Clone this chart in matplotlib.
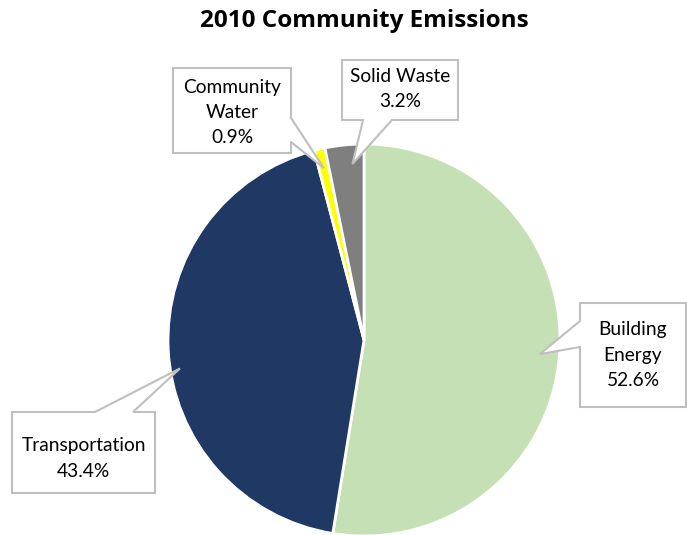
import matplotlib.pyplot as plt
from matplotlib.patches import Polygon
import numpy as np

title = '2010 Community Emissions'
categories = ['Building\nEnergy', 'Transportation', 'Community\nWater', 'Solid Waste']
shares = [52.6, 43.4, 0.9, 3.2]
colors = ['#C5E0B4', '#203864', '#FFFF00', '#7F7F7F']

plt.rcParams['font.family'] = ['Lato', 'DejaVu Sans']

W, H = 687, 535
fig = plt.figure(figsize=(W / 100, H / 100), dpi=100)
ax = fig.add_axes([0, 0, 1, 1])

# pie geometry in pixel coords (y measured from top)
cx, cy, R = 364, 340, 196
wedges, _ = ax.pie(shares, colors=colors, startangle=90, counterclock=False,
                   center=(cx, H - cy), radius=R,
                   wedgeprops=dict(edgecolor='white', linewidth=2))
ax.set_xlim(0, W)
ax.set_ylim(0, H)
ax.set_aspect('equal')
ax.axis('off')

# callout boxes: box (x0, y0, x1, y1), side of pointer, pointer base, tip radius fraction, angle offset
callouts = [
    dict(box=(580, 303, 686, 407), side='left', base=(321, 347), frac=0.9, dang=0, dy=0),
    dict(box=(12, 412, 155, 493), side='top', base=(95, 133), frac=0.95, dang=6, dy=6),
    dict(box=(173, 68, 291, 153), side='right', base=(118, 142), frac=0.9, dang=0, dy=2),
    dict(box=(342, 60, 458, 120), side='bottom', base=(363, 392), frac=0.9, dang=-2, dy=-1),
]


def callout_poly(box, side, base, tip):
    x0, y0, x1, y1 = box
    a, b = base
    if side == 'top':
        pts = [(x0, y0), (a, y0), tip, (b, y0), (x1, y0), (x1, y1), (x0, y1)]
    elif side == 'right':
        pts = [(x0, y0), (x1, y0), (x1, a), tip, (x1, b), (x1, y1), (x0, y1)]
    elif side == 'bottom':
        pts = [(x0, y0), (x1, y0), (x1, y1), (b, y1), tip, (a, y1), (x0, y1)]
    else:
        pts = [(x0, y0), (x1, y0), (x1, y1), (x0, y1), (x0, b), tip, (x0, a)]
    return [(x, H - y) for x, y in pts]


for w, name, val, c in zip(wedges, categories, shares, callouts):
    mid = np.deg2rad((w.theta1 + w.theta2) / 2 + c['dang'])
    tip = (cx + c['frac'] * R * np.cos(mid), cy - c['frac'] * R * np.sin(mid))
    poly = Polygon(callout_poly(c['box'], c['side'], c['base'], tip), closed=True,
                   facecolor='white', edgecolor='#BFBFBF', linewidth=1.5, zorder=5)
    ax.add_patch(poly)
    x0, y0, x1, y1 = c['box']
    ax.text((x0 + x1) / 2, H - ((y0 + y1) / 2 + c['dy']), f'{name}\n{val}%',
            ha='center', va='center', fontsize=13.8, color='#000000',
            linespacing=1.58, zorder=6)

fig.text(364 / W, 1 - 21 / H, title, ha='center', va='center', family=['Open Sans', 'DejaVu Sans'],
         fontsize=17.5, fontweight='bold', color='#000000')

fig.savefig('out.png', dpi=100)
